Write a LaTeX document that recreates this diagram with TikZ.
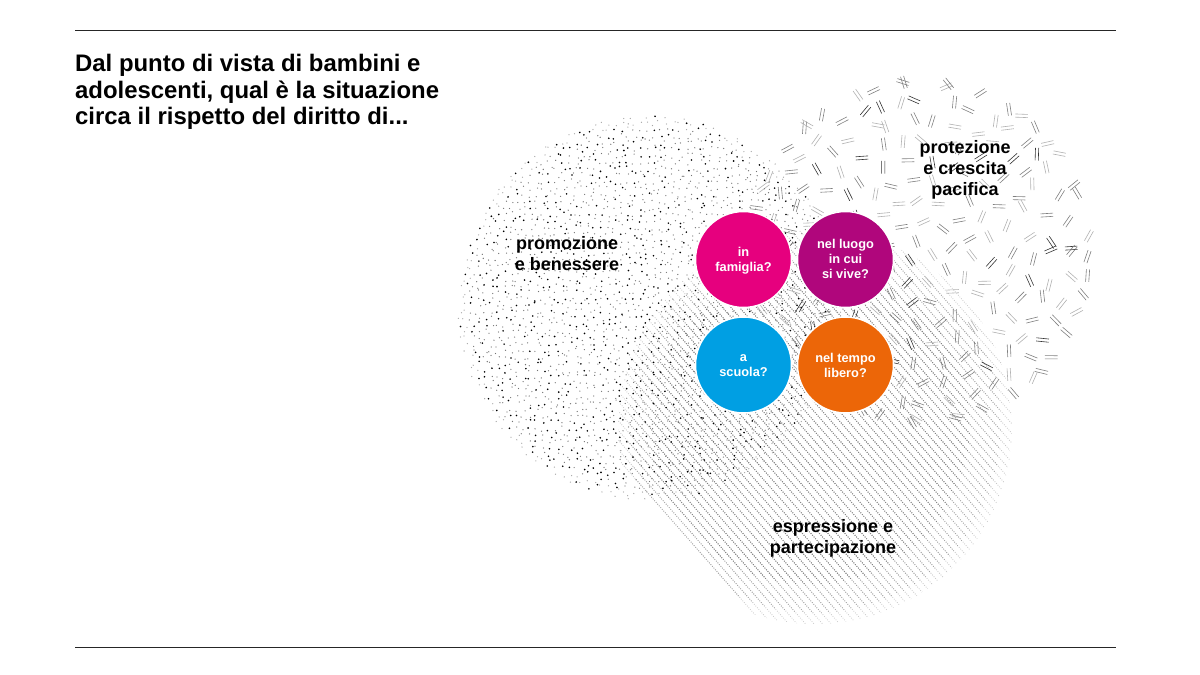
\documentclass[tikz,border=0pt]{standalone}
\usepackage{fontspec}
\setmainfont{Liberation Sans}
\definecolor{cfam}{HTML}{E6007E}
\definecolor{cluo}{HTML}{B0067C}
\definecolor{csc}{HTML}{009FE3}
\definecolor{ctem}{HTML}{EC6608}
\tikzset{
  rulestyle/.style={draw=black!85,line width=1pt},
  bubble/.style={circle,minimum size=96pt,inner sep=0pt,draw=white,line width=1.5pt},
  bubbletext/.style={text=white,align=center,inner sep=0pt,font=\fontsize{12.8}{15}\selectfont\bfseries},
  arealabel/.style={align=center,inner sep=0pt,font=\fontsize{18}{21}\selectfont\bfseries,text=black},
  titlestyle/.style={align=left,inner sep=0pt,anchor=north west,font=\fontsize{23.9}{26.5}\selectfont\bfseries,text=black},
  hatchline/.style={line width=.8pt,dash pattern=on .8pt off 1.5pt}
}
\newcommand{\hatchset}[1]{%
  \foreach \k in {0,...,72}{%
    \pgfmathsetmacro{\xs}{390+8.5*\k}
    \draw[hatchline,#1] (\xs,200) -- ++(380,431.8);
  }%
}
\begin{document}
\begin{tikzpicture}[x=1pt,y=-1pt]
\useasboundingbox (0,0) rectangle (1200,675);
\fill[white] (0,0) rectangle (1200,675);
% hatch area
\begin{scope}
  \clip (815,427) circle (197);
  \hatchset{black!22}
  \clip (815,427) circle (186);
  \hatchset{black!36}
  \clip (810,425) circle (160);
  \hatchset{black!50}
\end{scope}
% dash area
\pgfmathsetseed{11}
\foreach \rr/\nn in {10/3,30/9,50/15,70/21,90/26,110/32,130/38,150/43,167/48}{%
  \foreach \a in {1,...,\nn}{%
    \pgfmathsetmacro{\ang}{\a/\nn*360+8*rnd+\rr}
    \pgfmathsetmacro{\cx}{920+(\rr+4*rnd)*cos(\ang)}
    \pgfmathsetmacro{\cy}{252+(\rr+4*rnd)*sin(\ang)}
    \pgfmathsetmacro{\rot}{180*rnd}
    \pgfmathsetmacro{\tone}{rnd<.15?(\rr>155?50:80):(rnd<.5?50:30)}
    \draw[black!\tone,line width=.6pt,shift={(\cx,\cy)},rotate=\rot]
       (-6.3,-1.6) -- (6.3,-1.6) (-6.3,1.6) -- (6.3,1.6);
  }%
}
% dot area
\pgfmathsetseed{23}
\foreach \i in {0,...,59}{%
  \foreach \j in {0,...,59}{%
    \pgfmathsetmacro{\px}{456+6.5*\i+5.5*rnd}
    \pgfmathsetmacro{\py}{114+6.5*\j+5.5*rnd}
    \pgfmathsetmacro{\dist}{veclen(\px-650,\py-308)}
    \ifdim\dist pt<192pt
      \pgfmathsetmacro{\ss}{rnd}
      \pgfmathsetmacro{\limv}{\dist>182?.8:.7}
      \ifdim\ss pt>\limv pt
        \fill[black] (\px,\py) circle (.9);
      \else
        \pgfmathsetmacro{\tn}{\dist>182?35:55}
        \fill[black!\tn] (\px,\py) circle (.65);
      \fi
    \fi
  }%
}
% rules
\coordinate (r1a) at (75,30);
\coordinate (r1b) at (1116,30);
\coordinate (r2a) at (75,647);
\coordinate (r2b) at (1116,647);
\draw[rulestyle] (r1a) -- (r1b);
\draw[rulestyle] (r2a) -- (r2b);
% title
\node[titlestyle] (title) at (75,54) {Dal punto di vista di bambini e\\adolescenti, qual è la situazione\\circa il rispetto del diritto di...};
% area labels
\node[arealabel] (promo) at (567,253.5) {promozione\\e benessere};
\node[arealabel] (prot) at (965,170) {protezione\\e crescita\\pacifica};
\node[arealabel] (espr) at (833,538) {espressione e\\partecipazione};
% bubbles
\node[bubble,fill=cfam] (fam) at (743.5,259.5) {};
\node[bubble,fill=cluo] (luo) at (845.5,259.5) {};
\node[bubble,fill=csc] (scu) at (743.5,365) {};
\node[bubble,fill=ctem] (tem) at (845.5,365) {};
\node[bubbletext] (famt) at (743.5,261) {in\\famiglia?};
\node[bubbletext] (luot) at (845.5,258.5) {nel luogo\\in cui\\si vive?};
\node[bubbletext] (scut) at (743.5,365.5) {a\\scuola?};
\node[bubbletext] (temt) at (845.5,365.5) {nel tempo\\libero?};
\end{tikzpicture}
\end{document}
